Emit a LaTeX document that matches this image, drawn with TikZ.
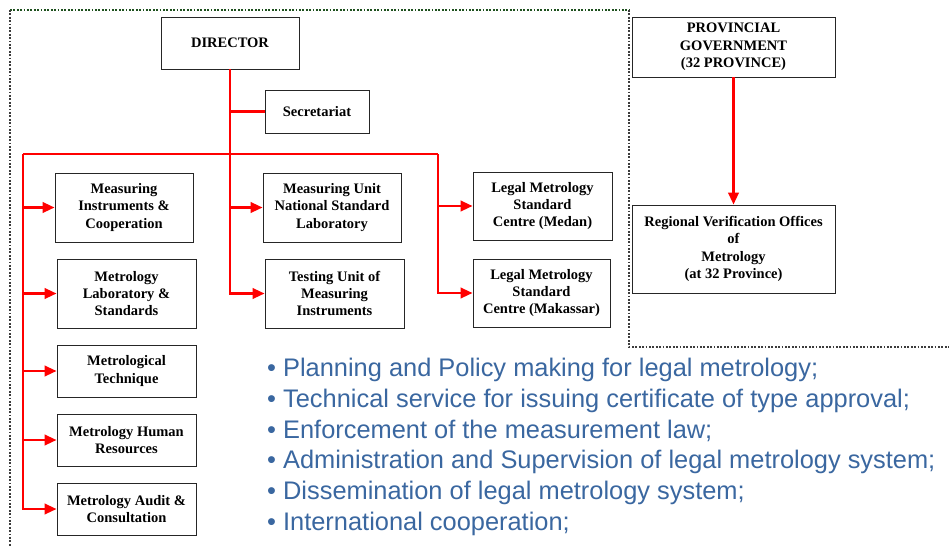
\documentclass[tikz,border=0pt]{standalone}
\usepackage{fontspec}
\setmainfont{Liberation Serif}
\newfontfamily\bulletfont{Liberation Sans}
\usetikzlibrary{arrows.meta}
\definecolor{dotgreen}{RGB}{30,80,30}
\definecolor{dotgray}{RGB}{60,60,60}
\definecolor{bluetxt}{RGB}{58,103,160}
\tikzset{
  unitbox/.style={draw=black!85, line width=0.9pt, fill=white, align=center,
    font=\fontsize{14.5}{17.3}\selectfont\bfseries, inner sep=1pt},
  link/.style={draw=red, line width=2.4pt},
  arr/.style={link, -{Triangle[length=12pt,width=10.5pt]}},
  dotline/.style={line width=1.8pt, dash pattern=on 1.8pt off 1.6pt},
  listline/.style={anchor=base west, inner sep=0pt, text=bluetxt,
    font=\bulletfont\fontsize{25.4}{31}\selectfont}
}
\begin{document}
\begin{tikzpicture}[x=1pt,y=-1pt]
\useasboundingbox (0,0) rectangle (949,547);
% dotted frame
\draw[dotline, dotgreen] (10,10) -- (629,10);
\draw[dotline, dotgray] (10,10) -- (10,547);
\draw[dotline, dotgray] (629,10) -- (629,347) -- (949,347);
% boxes
\node[unitbox, minimum width=138pt, minimum height=52pt] (dir) at (230,43) {DIRECTOR};
\node[unitbox, minimum width=104pt, minimum height=43pt] (sec) at (317,111.5) {Secretariat};
\node[unitbox, minimum width=138pt, minimum height=69pt] (b1) at (124,207.5) {Measuring\\Instruments \&\\Cooperation};
\node[unitbox, minimum width=139pt, minimum height=69pt] (b2) at (126.5,293.5) {Metrology\\Laboratory \&\\Standards};
\node[unitbox, minimum width=139pt, minimum height=52pt] (b3) at (126.5,371) {Metrological\\Technique};
\node[unitbox, minimum width=139pt, minimum height=52pt] (b4) at (126.5,440) {Metrology Human\\Resources};
\node[unitbox, minimum width=139pt, minimum height=52pt] (b5) at (126.5,509) {Metrology Audit \&\\Consultation};
\node[unitbox, minimum width=138pt, minimum height=69pt] (m1) at (332,207.5) {Measuring Unit\\National Standard\\Laboratory};
\node[unitbox, minimum width=139pt, minimum height=69pt] (m2) at (334.5,293.5) {Testing Unit of\\Measuring\\Instruments};
\node[unitbox, minimum width=139pt, minimum height=68pt] (r1) at (542.5,206) {Legal Metrology\\Standard\\Centre (Medan)};
\node[unitbox, minimum width=137pt, minimum height=68pt] (r2) at (541.5,293) {Legal Metrology\\Standard\\Centre (Makassar)};
\node[unitbox, minimum width=203pt, minimum height=60pt] (pg) at (733.5,47) {PROVINCIAL\\GOVERNMENT\\(32 PROVINCE)};
\node[unitbox, minimum width=203pt, minimum height=88pt] (rv) at (733.5,249) {Regional Verification Offices\\of\\Metrology\\(at 32 Province)};
% connectors
\coordinate (L) at (23,154);
\coordinate (R) at (438,154);
\draw[link] (L) -- (R);
\draw[arr] (dir.south) |- (m2.west);
\draw[link] (dir.south |- sec.west) -- (sec.west);
\draw[arr] (dir.south |- m1.west) -- (m1.west);
\draw[arr] (L) |- (b5.west);
\draw[arr] (L |- b1.west) -- (b1.west);
\draw[arr] (L |- b2.west) -- (b2.west);
\draw[arr] (L |- b3.west) -- (b3.west);
\draw[arr] (L |- b4.west) -- (b4.west);
\draw[arr] (R) |- (r2.west);
\draw[arr] (R |- r1.west) -- (r1.west);
\draw[arr] (pg.south) -- (rv.north);
% bullet list
\node[listline] (l1) at (267,376) {• Planning and Policy making for legal metrology;};
\node[listline] (l2) at (267,407) {• Technical service for issuing certificate of type approval;};
\node[listline] (l3) at (267,438) {• Enforcement of the measurement law;};
\node[listline] (l4) at (267,468) {• Administration and Supervision of legal metrology system;};
\node[listline] (l5) at (267,499) {• Dissemination of legal metrology system;};
\node[listline] (l6) at (267,530) {• International cooperation;};
\end{tikzpicture}
\end{document}
